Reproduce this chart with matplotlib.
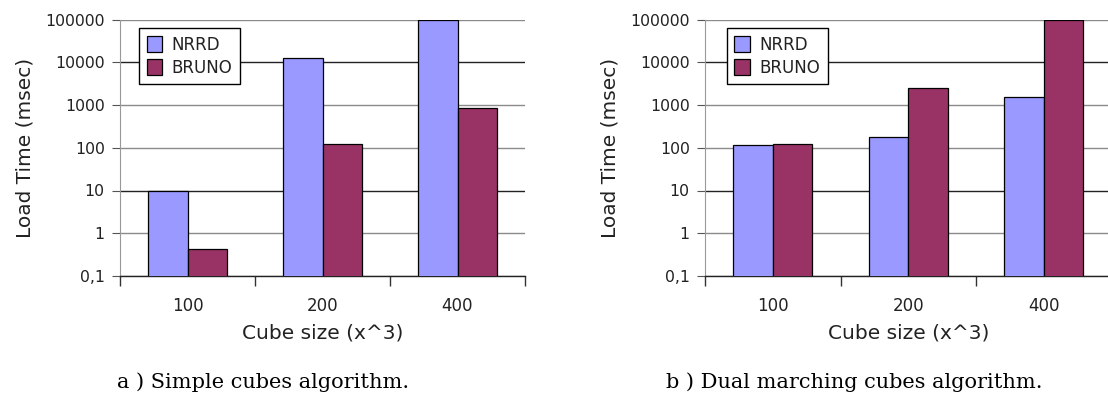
import numpy as np
import matplotlib
matplotlib.use("Agg")
import matplotlib.pyplot as plt

categories = ["100", "200", "400"]
series = ["NRRD", "BRUNO"]
simple_nrrd = [9.5, 12500, 100000]
simple_bruno = [0.42, 120, 850]
dual_nrrd = [115, 175, 1500]
dual_bruno = [120, 2500, 95000]
ytick_vals = [0.1, 1, 10, 100, 1000, 10000, 100000]
ytick_labels = ["0,1", "1", "10", "100", "1000", "10000", "100000"]
captions = ["a ) Simple cubes algorithm.", "b ) Dual marching cubes algorithm."]

colors = ["#9999ff", "#993366"]
W, H = 1108, 396

fig = plt.figure(figsize=(W / 100, H / 100), dpi=100)
# axes in pixel coords: left, top, right, bottom
ax1 = fig.add_axes([120 / W, 1 - 276 / H, 405 / W, 256.5 / H])
ax2 = fig.add_axes([705 / W, 1 - 276 / H, 406.5 / W, 256.5 / H])


def draw(ax, nrrd, bruno, leg_x):
    x = np.arange(len(categories))
    w = 0.29
    ax.bar(x - w / 2, nrrd, w, color=colors[0], edgecolor="black", linewidth=0.9,
           label=series[0], zorder=3)
    ax.bar(x + w / 2, bruno, w, color=colors[1], edgecolor="black", linewidth=0.9,
           label=series[1], zorder=3)
    ax.set_yscale("log")
    ax.set_ylim(0.1, 100000)
    ax.set_xlim(-0.5, len(categories) - 0.5)
    ax.set_yticks(ytick_vals)
    ax.set_yticklabels(ytick_labels)
    ax.yaxis.set_minor_locator(matplotlib.ticker.NullLocator())
    for v in ytick_vals:
        c = "#222222" if v in (10, 10000) else "#8a8a8a"
        ax.axhline(v, color=c, linewidth=1.0, zorder=1)
    # category boundaries as major ticks, labels on minor ticks
    ax.set_xticks(np.arange(len(categories) + 1) - 0.5)
    ax.set_xticklabels([])
    ax.set_xticks(x, minor=True)
    ax.set_xticklabels(categories, minor=True)
    ax.tick_params(axis="x", which="minor", length=0, pad=15, labelsize=12,
                   colors="#222222")
    ax.tick_params(axis="x", which="major", length=7, width=1, direction="out",
                   color="#333333")
    ax.tick_params(axis="y", length=6, width=0.8, color="#555555", labelsize=11.3,
                   labelcolor="#222222", pad=5)
    for s in ["top", "right"]:
        ax.spines[s].set_visible(False)
    ax.spines["left"].set_color("#999999")
    ax.spines["left"].set_linewidth(0.8)
    ax.spines["bottom"].set_color("#222222")
    ax.spines["bottom"].set_linewidth(1.0)
    ax.set_ylabel("Load Time (msec)", fontsize=14.5, color="#222222", labelpad=8)
    ax.set_xlabel("Cube size (x^3)", fontsize=14.5, color="#222222", labelpad=6)
    leg = ax.legend(loc="upper left", bbox_to_anchor=(leg_x, 0.965), fancybox=False,
                    edgecolor="black", fontsize=12, handlelength=0.95, handleheight=1.1,
                    handletextpad=0.55, borderpad=0.45, labelspacing=0.3, framealpha=1,
                    borderaxespad=0)
    leg.get_frame().set_linewidth(1.0)
    leg.set_zorder(5)
    for t in leg.get_texts():
        t.set_color("#222222")


draw(ax1, simple_nrrd, simple_bruno, 0.047)
draw(ax2, dual_nrrd, dual_bruno, 0.054)

fig.text(263 / W, 1 - 388 / H, captions[0], ha="center", va="baseline", fontsize=15,
         family="DejaVu Serif")
fig.text(854 / W, 1 - 388 / H, captions[1], ha="center", va="baseline", fontsize=15,
         family="DejaVu Serif")

fig.savefig("out.png", dpi=100)
